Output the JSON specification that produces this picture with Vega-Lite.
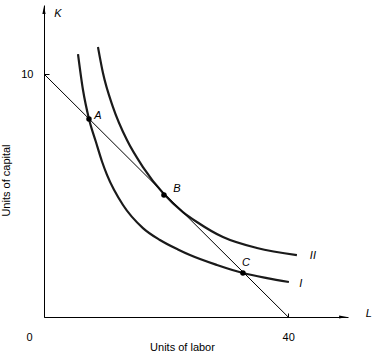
{
  "$schema": "https://vega.github.io/schema/vega-lite/v6.json",
  "width": 304,
  "height": 312,
  "autosize": "none",
  "padding": {"left": 44, "top": 5, "right": 25, "bottom": 35},
  "background": "white",
  "config": {
    "view": {"stroke": null},
    "font": "Liberation Sans",
    "axis": {"grid": false, "domainColor": "black", "tickColor": "black", "labelColor": "black", "titleColor": "black", "labelFont": "Liberation Sans", "titleFont": "Liberation Sans", "labelFontSize": 11, "titleFontSize": 11, "titleFontWeight": "normal"}
  },
  "datasets": {
    "curves": [
      {"series": "I", "x": 5.57, "y": 10.82},
      {"series": "I", "x": 6.39, "y": 9.34},
      {"series": "I", "x": 7.37, "y": 8.15},
      {"series": "I", "x": 8.51, "y": 7.2},
      {"series": "I", "x": 9.5, "y": 6.4},
      {"series": "I", "x": 10.32, "y": 5.85},
      {"series": "I", "x": 12.94, "y": 4.61},
      {"series": "I", "x": 16.21, "y": 3.66},
      {"series": "I", "x": 18.99, "y": 3.17},
      {"series": "I", "x": 21.94, "y": 2.78},
      {"series": "I", "x": 23.91, "y": 2.55},
      {"series": "I", "x": 28.33, "y": 2.14},
      {"series": "I", "x": 32.59, "y": 1.81},
      {"series": "I", "x": 36.52, "y": 1.6},
      {"series": "I", "x": 40.12, "y": 1.44},
      {"series": "II", "x": 8.84, "y": 11.11},
      {"series": "II", "x": 9.66, "y": 10.04},
      {"series": "II", "x": 11.3, "y": 8.64},
      {"series": "II", "x": 13.59, "y": 7.28},
      {"series": "II", "x": 16.21, "y": 6.17},
      {"series": "II", "x": 19.49, "y": 5.1},
      {"series": "II", "x": 22.76, "y": 4.32},
      {"series": "II", "x": 25.05, "y": 3.91},
      {"series": "II", "x": 29.31, "y": 3.29},
      {"series": "II", "x": 34.88, "y": 2.84},
      {"series": "II", "x": 41.43, "y": 2.55}
    ],
    "budget": [{"x": 0, "y": 10}, {"x": 40, "y": 0}],
    "pts": [
      {"name": "A", "x": 7.37, "y": 8.15},
      {"name": "B", "x": 19.65, "y": 5.02},
      {"name": "C", "x": 32.59, "y": 1.81}
    ],
    "labels": [
      {"text": "A", "x": 8.84, "y": 8.27},
      {"text": "B", "x": 21.78, "y": 5.27},
      {"text": "C", "x": 33.08, "y": 2.22},
      {"text": "II", "x": 44.05, "y": 2.51},
      {"text": "I", "x": 42.08, "y": 1.36},
      {"text": "K", "x": 2.29, "y": 12.47},
      {"text": "L", "x": 53.2, "y": 0.12}
    ],
    "arrowUp": [{"x": 0, "y": 12.63}],
    "arrowRight": [{"x": 49.0, "y": 0}]
  },
  "encoding": {
    "x": {
      "field": "x", "type": "quantitative",
      "scale": {"domain": [0, 49.8], "nice": false, "zero": false},
      "axis": {
        "values": [0, 40], "tickSize": -4, "labelPadding": 18,
        "labelOffset": {"condition": {"test": "datum.value == 0", "value": -18}, "value": 0},
        "title": "Units of labor", "titleX": 138, "titleY": 33, "titleBaseline": "alphabetic", "titleAnchor": null, "titleAlign": "center"
      }
    },
    "y": {
      "field": "y", "type": "quantitative",
      "scale": {"domain": [0, 12.84], "nice": false, "zero": false},
      "axis": {
        "values": [10], "tickSize": -5, "labelPadding": 16,
        "title": "Units of capital", "titleX": -35, "titleY": 175, "titleBaseline": "alphabetic", "titleAngle": -90, "titleAlign": "center"
      }
    }
  },
  "layer": [
    {
      "data": {"name": "curves"},
      "mark": {"type": "line", "interpolate": "monotone", "color": "#1a1a1a", "strokeWidth": 2.2},
      "encoding": {"detail": {"field": "series"}}
    },
    {
      "data": {"name": "budget"},
      "mark": {"type": "line", "color": "black", "strokeWidth": 1},
      "encoding": {}
    },
    {
      "data": {"name": "pts"},
      "mark": {"type": "point", "filled": true, "color": "black", "size": 30, "opacity": 1},
      "encoding": {}
    },
    {
      "data": {"name": "labels"},
      "mark": {"type": "text", "fontStyle": "italic", "fontSize": 11, "color": "black", "align": "center", "baseline": "middle"},
      "encoding": {"text": {"field": "text"}}
    },
    {
      "data": {"name": "arrowUp"},
      "mark": {"type": "point", "filled": true, "color": "black", "opacity": 1, "size": 64, "shape": "M0,-1L-0.4,1L0.4,1Z"},
      "encoding": {}
    },
    {
      "data": {"name": "arrowRight"},
      "mark": {"type": "point", "filled": true, "color": "black", "opacity": 1, "size": 64, "shape": "M1,0L-1,-0.4L-1,0.4Z"},
      "encoding": {}
    }
  ]
}
